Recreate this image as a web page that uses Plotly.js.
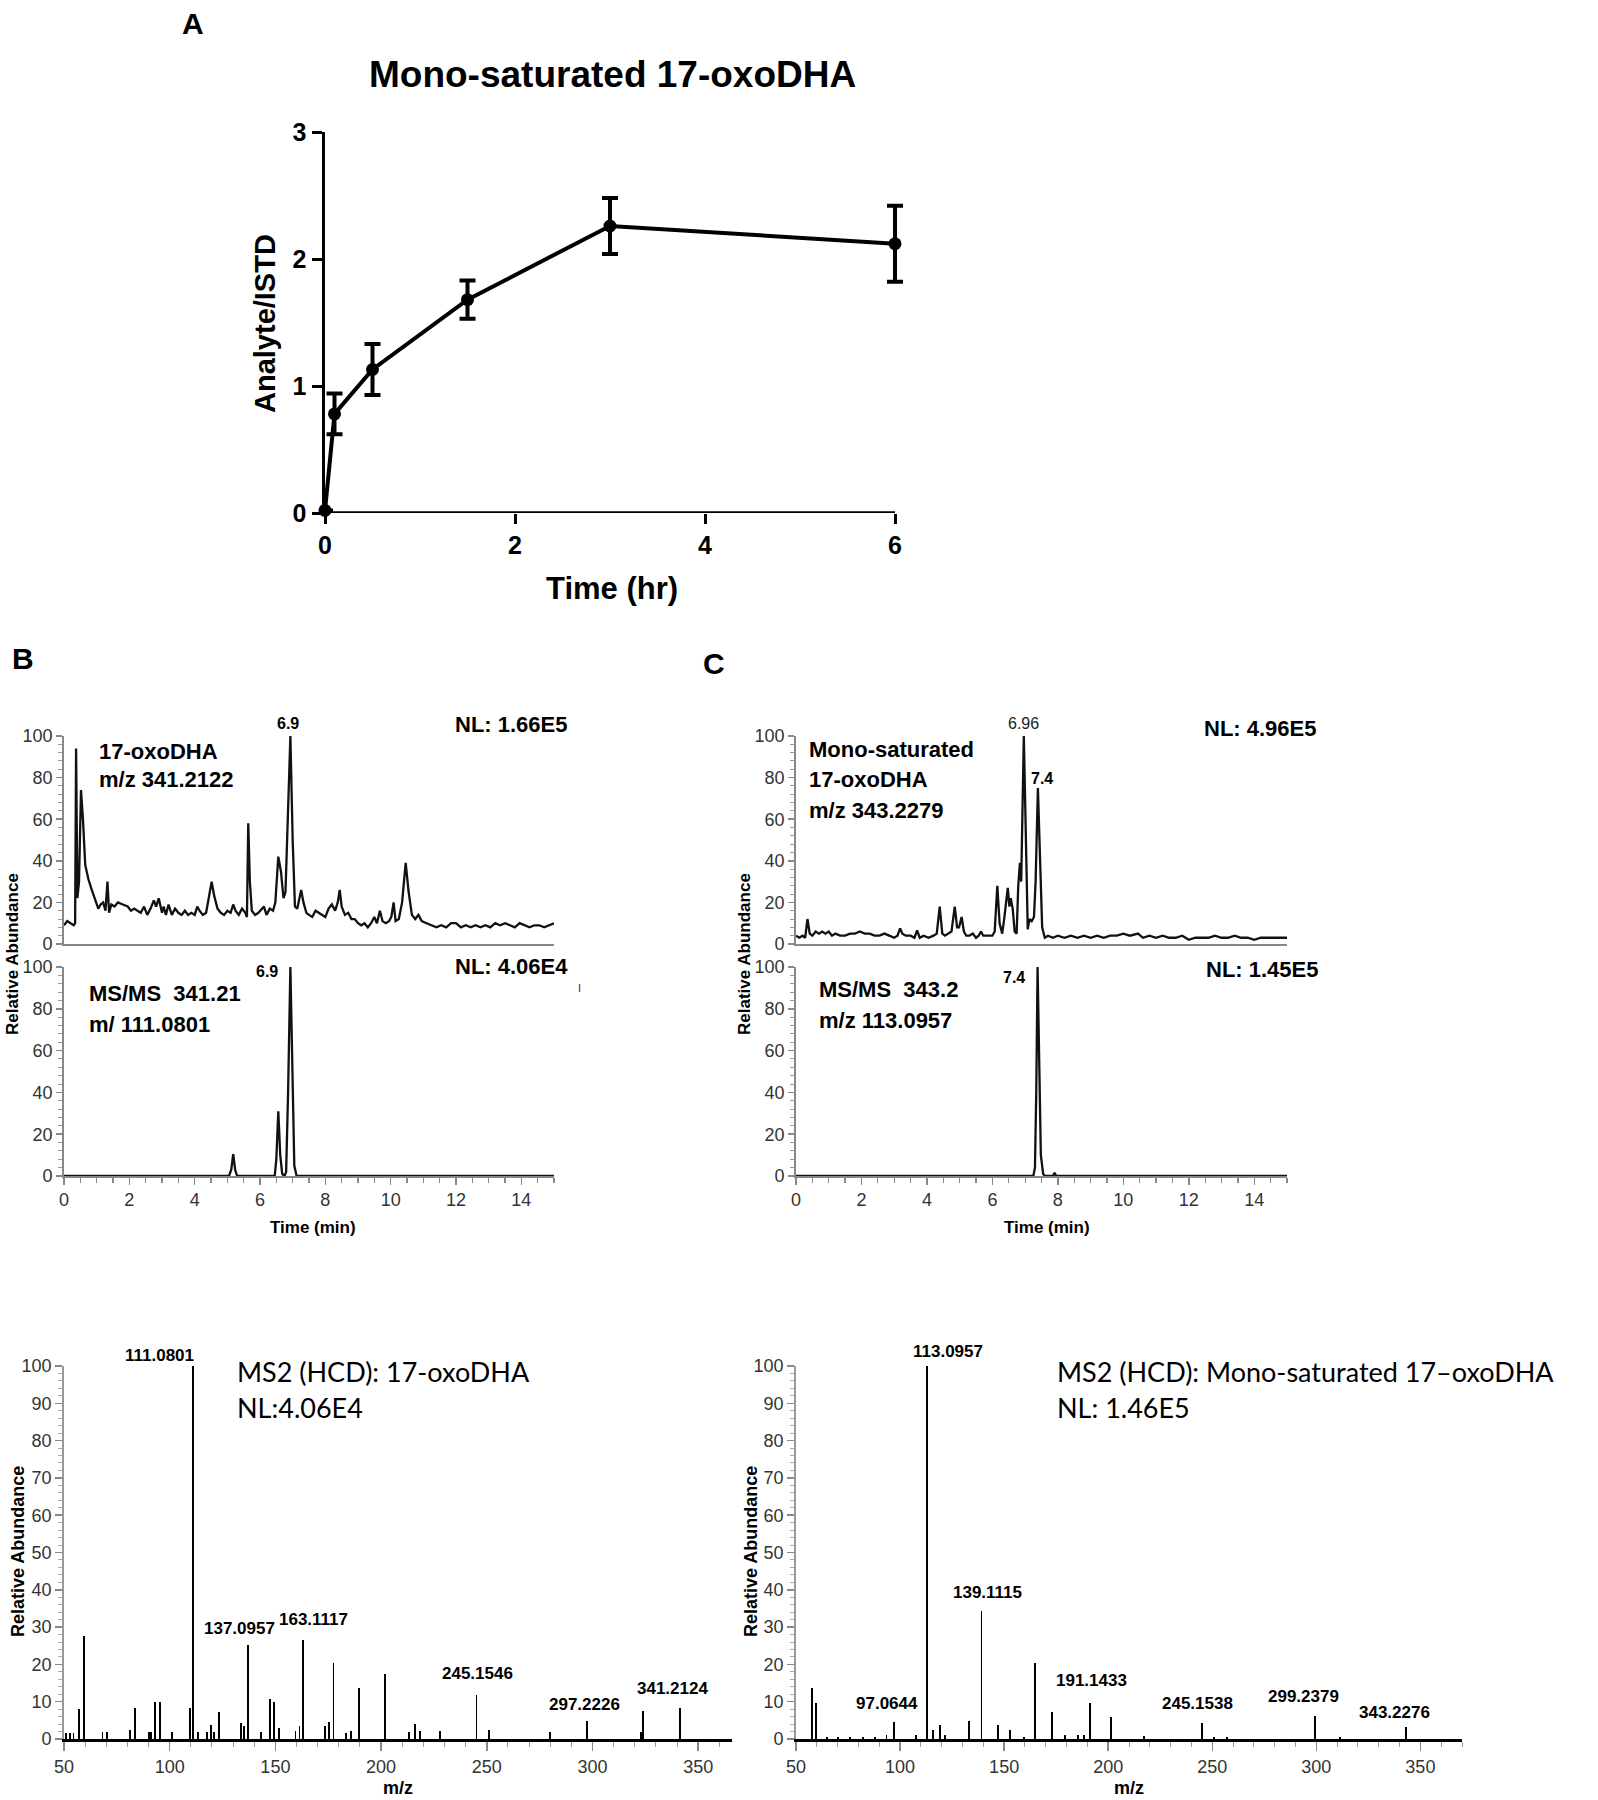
<!DOCTYPE html>
<html><head><meta charset="utf-8">
<script src="https://cdn.plot.ly/plotly-3.0.1.min.js"></script>
<style>body{margin:0;background:#fff}#chart{width:1598px;height:1800px}</style>
</head><body><div id="chart"></div>
<script>
// ---------- DATA ----------
// Panel A: time course
const timeHr = [0, 0.1, 0.5, 1.5, 3, 6];
const ratio = [0.02, 0.78, 1.13, 1.68, 2.26, 2.12];
const ratioErr = [0, 0.16, 0.2, 0.15, 0.22, 0.3];

// Panel B chromatograms [time (min), relative abundance]
const bTopTrace = [[0,9],[0.1,11],[0.2,10],[0.3,9],[0.34,10],[0.37,94],[0.41,22],[0.46,30],[0.52,74],[0.58,60],[0.65,38],[0.75,31],[0.85,26],[0.95,21],[1.05,17],[1.12,19],[1.2,20],[1.27,16],[1.33,30],[1.38,15],[1.45,19],[1.55,18],[1.65,20],[1.8,19],[1.95,18],[2.05,16],[2.15,17],[2.25,16],[2.35,15],[2.45,18],[2.55,14],[2.65,17],[2.75,21],[2.82,18],[2.9,22],[3.0,15],[3.05,18],[3.12,14],[3.2,19],[3.3,14],[3.4,17],[3.5,15],[3.6,14],[3.7,16],[3.8,14],[3.9,15],[4.0,14],[4.08,18],[4.15,16],[4.25,14],[4.35,15],[4.43,22],[4.52,30],[4.6,23],[4.7,17],[4.8,15],[4.9,14],[5.0,16],[5.1,15],[5.18,19],[5.25,16],[5.35,14],[5.45,17],[5.55,15],[5.6,13],[5.64,58],[5.69,30],[5.75,16],[5.85,14],[5.95,15],[6.05,17],[6.12,18],[6.2,14],[6.3,17],[6.4,16],[6.47,20],[6.56,42],[6.64,35],[6.72,22],[6.78,25],[6.85,60],[6.93,100],[7.0,50],[7.07,18],[7.14,17],[7.2,22],[7.26,26],[7.33,20],[7.42,15],[7.5,14],[7.6,13],[7.7,16],[7.8,15],[7.9,14],[8.0,13],[8.1,17],[8.2,19],[8.3,16],[8.38,20],[8.44,26],[8.5,18],[8.6,14],[8.7,15],[8.8,12],[8.9,12],[9.0,10],[9.1,9],[9.2,10],[9.3,8],[9.4,10],[9.5,13],[9.58,10],[9.67,16],[9.75,11],[9.85,10],[9.95,11],[10.02,13],[10.09,20],[10.15,11],[10.25,12],[10.35,20],[10.46,39],[10.55,25],[10.65,14],[10.75,12],[10.85,14],[10.95,11],[11.1,10],[11.25,9],[11.4,8],[11.55,9],[11.7,8],[11.85,10],[12.0,10],[12.15,8],[12.3,9],[12.45,8],[12.6,9],[12.75,8],[12.9,9],[13.05,8],[13.2,10],[13.35,9],[13.5,10],[13.65,9],[13.8,8],[13.95,10],[14.1,9],[14.25,8],[14.4,9],[14.55,9],[14.7,8],[14.85,9],[15.0,10]];
const bBottomTrace = [[0,0],[5.05,0],[5.12,3],[5.18,10.5],[5.24,3],[5.3,0],[6.45,0],[6.5,8],[6.56,31],[6.62,10],[6.68,1],[6.75,0],[6.8,2],[6.86,40],[6.93,100],[7.0,40],[7.05,5],[7.12,0],[15,0]];

// Panel C chromatograms
const cTopTrace = [[0,4],[0.1,3],[0.2,4],[0.28,3],[0.35,12],[0.42,5],[0.5,4],[0.6,6],[0.7,5],[0.8,6],[0.9,5],[1.0,6],[1.1,4],[1.2,5],[1.35,4],[1.5,4],[1.65,5],[1.8,5],[1.95,6],[2.1,5],[2.25,5],[2.4,4],[2.55,4],[2.7,5],[2.85,4],[3.0,3],[3.1,4],[3.18,7.5],[3.25,5],[3.35,4],[3.5,4],[3.62,3],[3.7,6.5],[3.78,3],[3.9,4],[4.05,3],[4.2,4],[4.3,5],[4.39,18],[4.47,5],[4.55,4],[4.65,5],[4.75,6],[4.85,18],[4.92,8],[4.98,8],[5.06,13],[5.13,6],[5.2,4],[5.3,4],[5.4,5],[5.5,3],[5.58,4],[5.65,6],[5.72,4],[5.85,4],[6.0,4],[6.07,6],[6.15,28],[6.22,10],[6.3,5],[6.36,12],[6.47,27],[6.52,18],[6.56,22],[6.62,17],[6.68,6],[6.74,5],[6.79,28],[6.84,39],[6.88,30],[6.96,100],[7.03,40],[7.08,7],[7.13,12],[7.2,11],[7.27,13],[7.32,30],[7.39,75],[7.45,40],[7.52,8],[7.6,3],[7.7,4],[7.85,3],[8.0,4],[8.2,3],[8.4,4],[8.6,3],[8.8,4],[9.0,3],[9.2,4],[9.4,3],[9.6,4],[9.8,4],[10.0,5],[10.2,4],[10.45,5],[10.6,3],[10.8,4],[11.0,3],[11.2,4],[11.4,3],[11.6,3],[11.8,4],[12.0,2],[12.2,3],[12.4,3],[12.6,3],[12.8,4],[13.0,3],[13.2,3],[13.4,4],[13.6,3],[13.8,3],[14.0,2],[14.2,3],[14.4,3],[14.6,3],[14.8,3],[15.0,3]];
const cBottomTrace = [[0,0],[7.25,0],[7.3,4],[7.34,40],[7.38,100],[7.43,60],[7.48,10],[7.55,1],[7.6,0],[7.85,0],[7.9,1.5],[7.95,0],[15,0]];

// MS2 spectra
const mzB = [51.1, 53, 54.5, 57, 59.3, 68.2, 70.2, 81.1, 83.4, 90.2, 91, 93.2, 95.5, 101, 109.5, 111.0801, 113.6, 117.7, 119.5, 121.1, 123.2, 133.6, 135.2, 137.0957, 143, 147.3, 149.5, 151.6, 159.5, 161.4, 163.1117, 173.4, 175.5, 177.5, 183.6, 185.9, 189.5, 201.8, 213, 215.9, 218.4, 227.7, 245.1546, 250.9, 280, 297.2226, 323, 324, 341.2124];
const intB = [1.5, 1.5, 1.5, 8, 27.6, 2, 2, 2.5, 8.3, 2, 2, 10, 10, 1.8, 8.3, 100, 2, 2, 3.8, 2, 7.2, 4.3, 3.5, 25.2, 1.8, 10.7, 10, 3, 2.2, 3.5, 26.5, 3.5, 4.5, 20.5, 1.5, 2.2, 13.8, 17.4, 2, 4, 2.2, 2.2, 11.7, 2.5, 2, 4.9, 2, 7.6, 8.3];
const mzC = [57.6, 59.7, 65, 70, 76, 82, 88, 93.5, 97.0644, 107.5, 113.0957, 116, 119, 121.5, 133, 139.1115, 147, 153, 159.5, 165, 173, 179.3, 185.5, 188.2, 191.1433, 201.2, 217.3, 245.1538, 251, 257, 299.2379, 311.3, 343.2276];
const intC = [13.6, 9.6, 0.5, 0.5, 0.5, 0.5, 0.5, 1.2, 4.5, 1, 100, 2.5, 3.8, 1, 4.7, 34.4, 3.8, 2.5, 0.5, 20.5, 7.2, 1, 1, 1, 9.6, 5.9, 0.8, 4.3, 0.5, 0.5, 6.2, 0.5, 3.2];
const peakLabelsB = ['111.0801', '137.0957', '163.1117', '245.1546', '297.2226', '341.2124'];
const peakLabelsC = ['113.0957', '139.1115', '97.0644', '191.1433', '245.1538', '299.2379', '343.2276'];

// ---------- LAYOUT HELPERS ----------
const W = 1598, H = 1800;
const fx = p => p / W;
const fy = p => 1 - p / H;
const ARIAL = "'Liberation Sans', Arial, sans-serif";
const CALI = "Lato, 'Open Sans', sans-serif";

function ann(text, x, y, xref, yref, size, opts) {
  return Object.assign({
    text: text, x: x, y: y, xref: xref, yref: yref, showarrow: false,
    xanchor: 'center', yanchor: 'middle',
    font: {family: ARIAL, size: size, color: '#000', weight: 'bold'}
  }, opts || {});
}
// annotation in chromatogram axis units (0-15 min, 0-100 %) using domain refs
function cAnn(text, t, v, k, size, opts) {
  return ann(text, t / 15, v / 100, 'x' + k + ' domain', 'y' + k + ' domain', size, opts);
}
// annotation in spectrum axis units
function sAnn(text, mz, v, k, maxMz, size, opts) {
  return ann(text, (mz - 50) / (maxMz - 50), v / 100, 'x' + k + ' domain', 'y' + k + ' domain', size, opts);
}

const traces = [];
// Panel A
traces.push({
  type: 'scatter', mode: 'lines+markers', x: timeHr, y: ratio,
  error_y: {type: 'data', array: ratioErr, visible: true, color: '#000', thickness: 4, width: 8},
  line: {color: '#000', width: 4}, marker: {color: '#000', size: 13},
  cliponaxis: false, xaxis: 'x', yaxis: 'y', showlegend: false
});
function chromTrace(pairs, xa, ya) {
  return {type: 'scatter', mode: 'lines', x: pairs.map(p => p[0]), y: pairs.map(p => p[1]),
    line: {color: '#111', width: 2.3}, cliponaxis: false, xaxis: xa, yaxis: ya, showlegend: false};
}
traces.push(chromTrace(bTopTrace, 'x2', 'y2'));
traces.push(chromTrace(bBottomTrace, 'x3', 'y3'));
traces.push(chromTrace(cTopTrace, 'x4', 'y4'));
traces.push(chromTrace(cBottomTrace, 'x5', 'y5'));
traces.push({type: 'bar', x: mzB, y: intB, width: 0.9, marker: {color: '#000', line: {width: 0}},
  xaxis: 'x6', yaxis: 'y6', showlegend: false, cliponaxis: false});
traces.push({type: 'bar', x: mzC, y: intC, width: 0.9, marker: {color: '#000', line: {width: 0}},
  xaxis: 'x7', yaxis: 'y7', showlegend: false, cliponaxis: false});

const range = (a, b, s) => { const r = []; for (let v = a; v <= b + 1e-9; v += s) r.push(v); return r; };

function chromX(dom, anchor, labels) {
  return {domain: dom, anchor: anchor, range: [0, 15], tickvals: range(0, 14, 2),
    ticks: labels ? 'outside' : '', ticklen: 7, tickwidth: 1.5, tickcolor: '#888',
    minor: labels ? {ticks: 'outside', dtick: 0.5, tick0: 0, ticklen: 5, tickcolor: '#888', tickwidth: 1.2} : undefined,
    showline: true, linecolor: '#888', linewidth: 1.8, showgrid: false, zeroline: false,
    showticklabels: labels, tickfont: {family: ARIAL, size: 18, color: '#333'}};
}
function chromY(dom, anchor) {
  return {domain: dom, anchor: anchor, range: [0, 100], tickvals: range(0, 100, 20),
    ticks: 'outside', ticklen: 6, tickwidth: 1.5, tickcolor: '#888',
    minor: {ticks: 'outside', dtick: 4, tick0: 0, ticklen: 4, tickcolor: '#999', tickwidth: 1},
    showline: true, linecolor: '#888', linewidth: 1.8, showgrid: false, zeroline: false,
    tickfont: {family: ARIAL, size: 18, color: '#333'}};
}
function specX(dom, anchor, maxMz) {
  return {domain: dom, anchor: anchor, range: [50, maxMz], tickvals: range(50, 350, 50),
    ticks: 'outside', ticklen: 9, tickwidth: 1.5, tickcolor: '#888',
    minor: {ticks: 'outside', dtick: 10, tick0: 50, ticklen: 5, tickcolor: '#999', tickwidth: 1},
    showline: true, linecolor: '#000', linewidth: 3, showgrid: false, zeroline: false,
    tickfont: {family: ARIAL, size: 18, color: '#333'}};
}
function specY(dom, anchor) {
  return {domain: dom, anchor: anchor, range: [0, 100], tickvals: range(0, 100, 10),
    ticks: 'outside', ticklen: 7, tickwidth: 1.5, tickcolor: '#888',
    minor: {ticks: 'outside', dtick: 2, tick0: 0, ticklen: 4, tickcolor: '#aaa', tickwidth: 1},
    showline: true, linecolor: '#999', linewidth: 1.8, showgrid: false, zeroline: false,
    tickfont: {family: ARIAL, size: 18, color: '#333'}};
}

const bX = [fx(64), fx(554)], cX = [fx(796), fx(1287)];
const topY = [fy(944), fy(736)], botY = [fy(1176), fy(967)];
const specBX = [fx(64), fx(732)], specCX = [fx(796), fx(1462)], specY_ = [fy(1739), fy(1366)];
// Panel A: range padded slightly past 6 so the end error bar is not clipped
const aX0 = 325, aXper = (895 - 325) / 6, aXmax = 6.15;

const layout = {
  width: W, height: H, margin: {l: 0, r: 0, t: 0, b: 0},
  paper_bgcolor: '#fff', plot_bgcolor: 'rgba(0,0,0,0)', showlegend: false, bargap: 0,
  xaxis: {domain: [fx(aX0), fx(aX0 + aXper * aXmax)], anchor: 'y', range: [0, aXmax], tickvals: [0, 2, 4, 6],
    ticks: 'outside', ticklen: 10, tickwidth: 3, tickcolor: '#000', showline: false,
    showgrid: false, zeroline: false,
    tickfont: {family: ARIAL, size: 25, color: '#000', weight: 'bold'}},
  yaxis: {domain: [fy(513), fy(132)], anchor: 'x', range: [0, 3], tickvals: [0, 1, 2, 3],
    ticks: 'outside', ticklen: 10, tickwidth: 3, tickcolor: '#000', showline: true, linewidth: 3.5,
    linecolor: '#000', showgrid: false, zeroline: false,
    tickfont: {family: ARIAL, size: 25, color: '#000', weight: 'bold'}},
  xaxis2: chromX(bX, 'y2', false), yaxis2: chromY(topY, 'x2'),
  xaxis3: chromX(bX, 'y3', true), yaxis3: chromY(botY, 'x3'),
  xaxis4: chromX(cX, 'y4', false), yaxis4: chromY(topY, 'x4'),
  xaxis5: chromX(cX, 'y5', true), yaxis5: chromY(botY, 'x5'),
  xaxis6: specX(specBX, 'y6', 366), yaxis6: specY(specY_, 'x6'),
  xaxis7: specX(specCX, 'y7', 370), yaxis7: specY(specY_, 'x7'),
  shapes: [
    // panel A x-axis line, from 0 to 6 h
    {type: 'line', xref: 'x', yref: 'y', x0: 0, x1: 6, y0: 0, y1: 0, line: {color: '#000', width: 3.5}}
  ],
  annotations: []
};

const A = layout.annotations;
// panel letters & panel A titles
A.push(ann('A', fx(193), fy(23), 'paper', 'paper', 30));
A.push(ann('B', fx(23), fy(659), 'paper', 'paper', 30));
A.push(ann('C', fx(714), fy(663), 'paper', 'paper', 30));
A.push(ann('Mono-saturated 17-oxoDHA', fx(612), fy(75), 'paper', 'paper', 37));
A.push(ann('Time (hr)', fx(612), fy(588), 'paper', 'paper', 31));
A.push(ann('Analyte/ISTD', fx(265), fy(324), 'paper', 'paper', 29, {textangle: -90}));

// chromatogram labels
const L = {xanchor: 'left'}, R = {xanchor: 'right'};
A.push(cAnn('17-oxoDHA', 1.01, 92.7, 2, 22, L));
A.push(cAnn('m/z 341.2122', 1.01, 78.9, 2, 22, L));
A.push(cAnn('NL: 1.66E5', 15.5, 105.5, 2, 22, R));
A.push(cAnn('6.9', 6.85, 106, 2, 16));
A.push(cAnn('NL: 4.06E4', 15.5, 100.4, 3, 22, R));
A.push(cAnn('6.9', 6.2, 98, 3, 16));
A.push(cAnn('MS/MS \u00a0341.21', 0.71, 87.2, 3, 22, L));
A.push(cAnn('m/ 111.0801', 0.71, 72.6, 3, 22, L));
A.push(cAnn('I', 15.79, 90, 3, 11, {font: {family: ARIAL, size: 11, color: '#333'}}));
A.push(cAnn('Mono-saturated', 0.35, 93.6, 4, 22, L));
A.push(cAnn('17-oxoDHA', 0.35, 78.9, 4, 22, L));
A.push(cAnn('m/z 343.2279', 0.35, 64.2, 4, 22, L));
A.push(cAnn('NL: 4.96E5', 12.4, 103.7, 4, 22, L));
A.push(cAnn('6.96', 6.94, 106, 4, 16, {font: {family: ARIAL, size: 16, color: '#222'}}));
A.push(cAnn('7.4', 7.5, 79.8, 4, 16));
A.push(cAnn('NL: 1.45E5', 12.47, 99, 5, 22, L));
A.push(cAnn('7.4', 6.67, 94.9, 5, 16));
A.push(cAnn('MS/MS \u00a0343.2', 0.65, 89, 5, 22, L));
A.push(cAnn('m/z 113.0957', 0.65, 74.4, 5, 22, L));
A.push(ann('Relative Abundance', fx(12), fy(954), 'paper', 'paper', 17, {textangle: -90}));
A.push(ann('Relative Abundance', fx(744), fy(954), 'paper', 'paper', 17, {textangle: -90}));
A.push(ann('Time (min)', fx(313), fy(1227), 'paper', 'paper', 17));
A.push(ann('Time (min)', fx(1047), fy(1227), 'paper', 'paper', 17));

// spectra titles
const calFont = {family: CALI, size: 27, color: '#000', weight: 'normal'};
A.push(sAnn('MS2 (HCD): 17-oxoDHA', 131, 98.5, 6, 366, 27, {xanchor: 'left', font: calFont}));
A.push(sAnn('NL:4.06E4', 131, 89, 6, 366, 27, {xanchor: 'left', font: calFont}));
A.push(sAnn('MS2 (HCD): Mono-saturated 17\u2013oxoDHA', 174.5, 98.5, 7, 370, 27, {xanchor: 'left', font: calFont}));
A.push(sAnn('NL: 1.46E5', 174.5, 89, 7, 370, 27, {xanchor: 'left', font: calFont}));
A.push(ann('Relative Abundance', fx(18), fy(1552), 'paper', 'paper', 18, {textangle: -90}));
A.push(ann('Relative Abundance', fx(751), fy(1552), 'paper', 'paper', 18, {textangle: -90}));
A.push(ann('m/z', fx(398), fy(1788), 'paper', 'paper', 18));
A.push(ann('m/z', fx(1129), fy(1788), 'paper', 'paper', 18));

// peak labels (placement in axis units)
const pkFont = {family: ARIAL, size: 17, color: '#000', weight: 'bold'};
const posB = [[112.5, 102.7, 'right'], [133, 29.7, 'center'], [168, 32, 'center'], [245.5, 17.6, 'center'], [296, 9.2, 'center'], [338, 13.6, 'center']];
peakLabelsB.forEach((t, i) => A.push(sAnn(t, posB[i][0], posB[i][1], 6, 366, 17, {xanchor: posB[i][2], font: pkFont})));
const posC = [[122.8, 103.8], [142, 39.4], [93.5, 9.4], [192, 15.7], [243, 9.4], [294, 11.4], [337.6, 7.2]];
peakLabelsC.forEach((t, i) => A.push(sAnn(t, posC[i][0], posC[i][1], 7, 370, 17, {font: pkFont})));

Plotly.newPlot('chart', traces, layout, {staticPlot: true, displayModeBar: false});
</script></body></html>
